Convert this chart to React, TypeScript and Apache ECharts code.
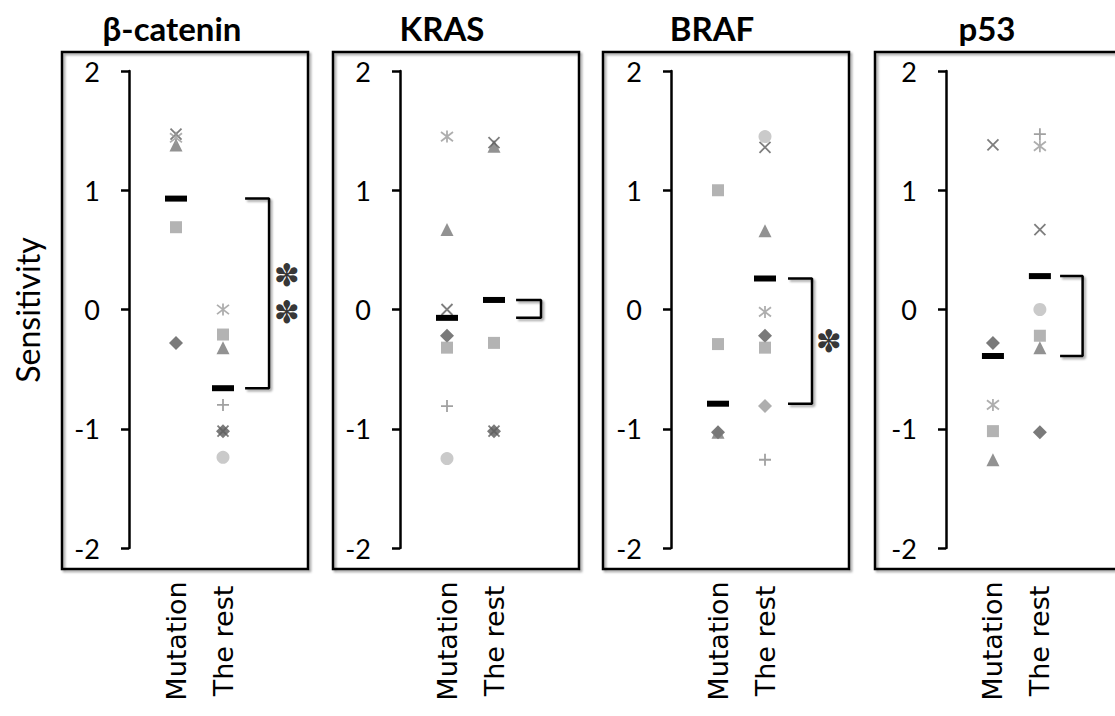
import React, { useEffect, useRef } from "react";
import * as echarts from "echarts";

// ---------- data ----------
const panelTitles = ["β-catenin", "KRAS", "BRAF", "p53"];
const groupLabels = ["Mutation", "The rest"];
const yTicks = [-2, -1, 0, 1, 2];
const yAxisName = "Sensitivity";

// per panel: [mutation values, the-rest values]
const diamondVals = [[[-0.28], [-1.02]], [[-0.22], [-1.02]], [[-1.03], [-0.22]], [[-0.28], [-1.03]]];
const diamondLightVals = [[[], []], [[], []], [[], [-0.81]], [[], []]];
const squareVals = [[[0.69], [-0.21]], [[-0.32], [-0.28]], [[1.0, -0.29], [-0.32]], [[-1.02], [-0.22]]];
const triangleVals = [[[1.38], [-0.32]], [[0.67], [1.37]], [[-1.03], [0.66]], [[-1.26], [-0.32]]];
const crossVals = [[[1.47], [-1.02]], [[0.0], [1.4, -1.02]], [[], [1.36]], [[1.38], [0.67]]];
const asteriskVals = [[[1.44], [0.0]], [[1.45], []], [[], [-0.02]], [[-0.8], [1.37]]];
const circleVals = [[[], [-1.24]], [[-1.25], []], [[], [1.45]], [[], [0.0]]];
const plusVals = [[[], [-0.8]], [[-0.81], []], [[], [-1.26]], [[], [1.47]]];
// group means [mutation, the rest]
const meanVals = [[0.93, -0.66], [-0.07, 0.08], [-0.79, 0.26], [-0.39, 0.28]];
const significance = ["✽\n✽", "", "✽", ""];

// ---------- layout ----------
const W = 1115;
const H = 716;
const axisLeft = [129, 400, 671, 946];
const boxLeft = [62, 333, 603, 875];
const titleX = [172, 442, 712, 987];
const bracketX = [[2.47, 2.98], [2.47, 3.0], [2.49, 3.0], [2.43, 2.91]];
const starX = 3.36;
const gridTop = 71;
const gridHeight = 477;
const xUnit = 47;
const xMax = 3.6;

const FONT = "Lato, 'Open Sans', sans-serif";

const shapes = [
  { vals: diamondVals, symbol: "diamond", size: 14, color: "#595959", stroke: false },
  { vals: diamondLightVals, symbol: "diamond", size: 14, color: "#9a9a9a", stroke: false },
  { vals: squareVals, symbol: "rect", size: 12, color: "#a0a0a0", stroke: false },
  { vals: triangleVals, symbol: "triangle", size: 13, color: "#777777", stroke: false },
  { vals: crossVals, symbol: "path://M0,0L10,10M10,0L0,10", size: 11, color: "#5e5e5e", stroke: true },
  { vals: asteriskVals, symbol: "path://M0,0L10,10M10,0L0,10M5,-1.5L5,11.5", size: 12, color: "#9a9a9a", stroke: true },
  { vals: circleVals, symbol: "circle", size: 13, color: "#bdbdbd", stroke: false },
  { vals: plusVals, symbol: "path://M5,0L5,10M0,5L10,5", size: 12, color: "#8a8a8a", stroke: true },
];

function buildOption() {
  const grid: any[] = [];
  const xAxis: any[] = [];
  const yAxis: any[] = [];
  const series: any[] = [];
  const graphic: any[] = [];

  panelTitles.forEach((title, p) => {
    grid.push({ left: axisLeft[p], top: gridTop, width: xUnit * xMax, height: gridHeight, containLabel: false });
    xAxis.push({
      gridIndex: p,
      type: "value",
      min: 0,
      max: xMax,
      interval: 1,
      axisLine: { show: false },
      axisTick: { show: false },
      splitLine: { show: false },
      axisLabel: {
        rotate: 90,
        align: "center",
        verticalAlign: "middle",
        margin: 93,
        fontSize: 27,
        fontFamily: "'DejaVu Sans', sans-serif",
        color: "#000",
        showMinLabel: true,
        showMaxLabel: false,
        formatter: (v: number) => (v === 1 ? groupLabels[0] : v === 2 ? groupLabels[1] : ""),
      },
    });
    yAxis.push({
      gridIndex: p,
      type: "value",
      min: yTicks[0],
      max: yTicks[yTicks.length - 1],
      interval: 1,
      axisLine: { show: true, lineStyle: { color: "#000", width: 2.5 } },
      axisTick: { show: true, inside: false, length: 8, lineStyle: { color: "#000", width: 2.5 } },
      splitLine: { show: false },
      axisLabel: { margin: 29, fontSize: 27, fontFamily: FONT, color: "#000" },
    });

    shapes.forEach((s) => {
      const [mut, rest] = s.vals[p];
      const data = [...mut.map((v) => [1, v]), ...rest.map((v) => [2, v])];
      if (!data.length) return;
      series.push({
        type: "scatter",
        xAxisIndex: p,
        yAxisIndex: p,
        symbol: s.symbol,
        symbolSize: s.size,
        data,
        silent: true,
        clip: false,
        itemStyle: s.stroke
          ? { color: "rgba(0,0,0,0)", borderColor: s.color, borderWidth: 1.8 }
          : { color: s.color },
      });
    });

    // means
    series.push({
      type: "scatter",
      xAxisIndex: p,
      yAxisIndex: p,
      symbol: "rect",
      symbolSize: [22, 6],
      data: meanVals[p].map((m, i) => [i + 1, m]),
      silent: true,
      clip: false,
      z: 5,
      itemStyle: { color: "#000", opacity: 1 },
    });

    // bracket between means
    const [m1, m2] = meanVals[p];
    const [bx0, bx1] = bracketX[p];
    series.push({
      type: "line",
      xAxisIndex: p,
      yAxisIndex: p,
      data: [[bx0, m1], [bx1, m1], [bx1, m2], [bx0, m2]],
      symbol: "none",
      silent: true,
      clip: false,
      lineStyle: {
        color: "#000",
        width: 2.5,
        shadowColor: "rgba(0,0,0,0.35)",
        shadowBlur: 2,
        shadowOffsetX: 2,
        shadowOffsetY: 2,
      },
    });

    if (significance[p]) {
      series.push({
        type: "scatter",
        xAxisIndex: p,
        yAxisIndex: p,
        symbol: "circle",
        symbolSize: 1,
        silent: true,
        clip: false,
        itemStyle: { color: "rgba(0,0,0,0)" },
        data: [[starX, (m1 + m2) / 2]],
        label: {
          show: true,
          position: "inside",
          formatter: significance[p],
          fontSize: 31,
          lineHeight: 37,
          fontFamily: "'DejaVu Sans', sans-serif",
          color: "#000",
        },
      });
    }

    // panel frame
    graphic.push({
      type: "rect",
      shape: { x: boxLeft[p], y: 52, width: 246, height: 517 },
      style: {
        fill: "none",
        stroke: "#000",
        lineWidth: 2.5,
        shadowColor: "rgba(0,0,0,0.35)",
        shadowBlur: 2,
        shadowOffsetX: 2,
        shadowOffsetY: 2,
      },
      silent: true,
      z: -1,
    });
    graphic.push({
      type: "text",
      x: titleX[p],
      y: 28,
      style: {
        text: title,
        fontSize: 33,
        fontWeight: "bold",
        fontFamily: FONT,
        fill: "#000",
        textAlign: "center",
        textVerticalAlign: "middle",
      },
      silent: true,
    });
  });

  graphic.push({
    type: "text",
    x: 27,
    y: 310,
    rotation: Math.PI / 2,
    style: {
      text: yAxisName,
      fontSize: 32,
      fontFamily: FONT,
      fill: "#000",
      textAlign: "center",
      textVerticalAlign: "middle",
    },
    silent: true,
  });

  return {
    animation: false,
    backgroundColor: "#fff",
    grid,
    xAxis,
    yAxis,
    series,
    graphic,
  };
}

export default function App() {
  const ref = useRef<HTMLDivElement>(null);
  useEffect(() => {
    if (!ref.current) return;
    const chart = echarts.init(ref.current, undefined, { renderer: "svg" });
    chart.setOption(buildOption() as any);
    return () => chart.dispose();
  }, []);
  return <div ref={ref} style={{ position: "absolute", left: 0, top: 0, width: W, height: H }} />;
}
